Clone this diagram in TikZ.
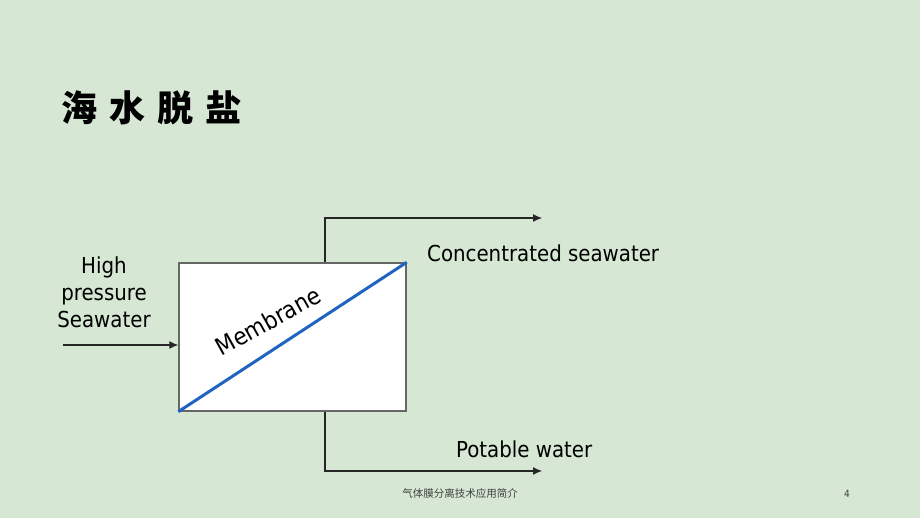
\documentclass[tikz,border=0pt]{standalone}
\usepackage{fontspec}
\setmainfont{DejaVu Sans Condensed}
\newfontfamily\cjk{Noto Sans CJK SC}
\usetikzlibrary{arrows.meta}
\definecolor{slidebg}{RGB}{214,232,212}
\definecolor{membraneblue}{RGB}{31,100,192}
\begin{document}
\begin{tikzpicture}[x=1pt,y=-1pt,
    flow/.style={draw=black!85,line width=1.1pt,-{Latex[length=9pt,width=8pt]}},
    lbl/.style={font=\fontsize{22}{27}\selectfont,inner sep=0pt}]
      \fill[slidebg] (0,0) rectangle (920,518);
      \useasboundingbox (0,0) rectangle (920,518);

      \node[anchor=west,font=\cjk\bfseries\fontsize{36}{36}\selectfont] (title) at (58,108)
        {海\hspace{12pt}水\hspace{12pt}脱\hspace{12pt}盐};

      % separation module
      \node[draw=black!60,fill=white,line width=1.4pt,inner sep=0pt,
        minimum width=227pt,minimum height=148pt] (module) at (292.5,337) {};
      \draw[membraneblue,line width=3pt] (module.south west) -- (module.north east);
      \node[font=\fontsize{24}{24}\selectfont,rotate=29,inner sep=0pt] (membranelabel) at (268,321) {Membrane};

      % feed
      \coordinate (feed) at (63,345);
      \draw[flow] (feed) -- (feed -| module.west);
      \node[lbl,align=center] (feedlabel) at (104,292) {High\\pressure\\Seawater};

      % outlets
      \def \Outlets {
        conc/north/218/427/262/Concentrated seawater,
        perm/south/471/456/457/Potable water}
      \foreach \id / \side / \y / \lx / \ly / \txt in \Outlets {
        \coordinate (\id) at (542,\y);
        \draw[flow] ([xshift=32.5pt]module.\side) |- (\id);
        \node[lbl,anchor=base west] (\id-label) at (\lx,\ly) {\txt};
      }

      \node[font=\cjk\fontsize{10.5}{12}\selectfont,text=black!75] (footer) at (460,494) {气体膜分离技术应用简介};
      \node[font=\fontsize{10}{12}\selectfont,text=black!75] (pagenum) at (847,494) {4};
\end{tikzpicture}
\end{document}
